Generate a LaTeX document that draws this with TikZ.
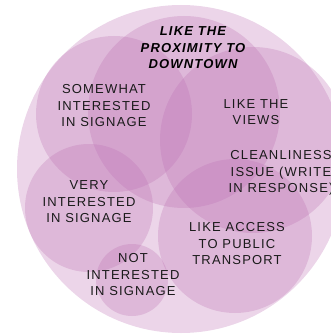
\documentclass[tikz,border=0pt]{standalone}
\usepackage{fontspec}
\setmainfont{Liberation Sans}[LetterSpace=9]
\definecolor{bubblefill}{RGB}{188,112,178}
\definecolor{inkgray}{RGB}{26,26,26}
\tikzset{
  bubble/.style={fill=bubblefill,fill opacity=0.29,draw=none},
  lbl/.style={align=center,text=inkgray,font=\fontsize{13}{16.5}\selectfont,inner sep=0pt},
  headlbl/.style={lbl,text=black,font=\fontsize{13}{16.5}\selectfont\bfseries\itshape}
}
\begin{document}
\begin{tikzpicture}[x=1pt,y=-1pt]
  \useasboundingbox (0,0) rectangle (331,334);
  % bubbles
  \fill[bubble] (181,169) circle (164pt);
  \fill[bubble] (184,112) circle (96pt);
  \fill[bubble] (114,114) circle (78pt);
  \fill[bubble] (253,140) circle (93pt);
  \fill[bubble] (89,208) circle (64pt);
  \fill[bubble] (132,280) circle (36pt);
  \fill[bubble] (235,236) circle (77pt);
  % labels
  \draw (193,48) node[headlbl](prox){LIKE THE\\PROXIMITY TO\\DOWNTOWN};
  \draw (104,106) node[lbl](some){SOMEWHAT\\INTERESTED\\IN SIGNAGE};
  \draw (256,112) node[lbl](views){LIKE THE\\VIEWS};
  \draw (281,173) node[lbl](clean){CLEANLINESS\\ISSUE (WRITE\\IN RESPONSE)};
  \draw (89,202) node[lbl](very){VERY\\INTERESTED\\IN SIGNAGE};
  \draw (133,275) node[lbl](nots){NOT\\INTERESTED\\IN SIGNAGE};
  \draw (237,244) node[lbl](access){LIKE ACCESS\\TO PUBLIC\\TRANSPORT};
\end{tikzpicture}
\end{document}
